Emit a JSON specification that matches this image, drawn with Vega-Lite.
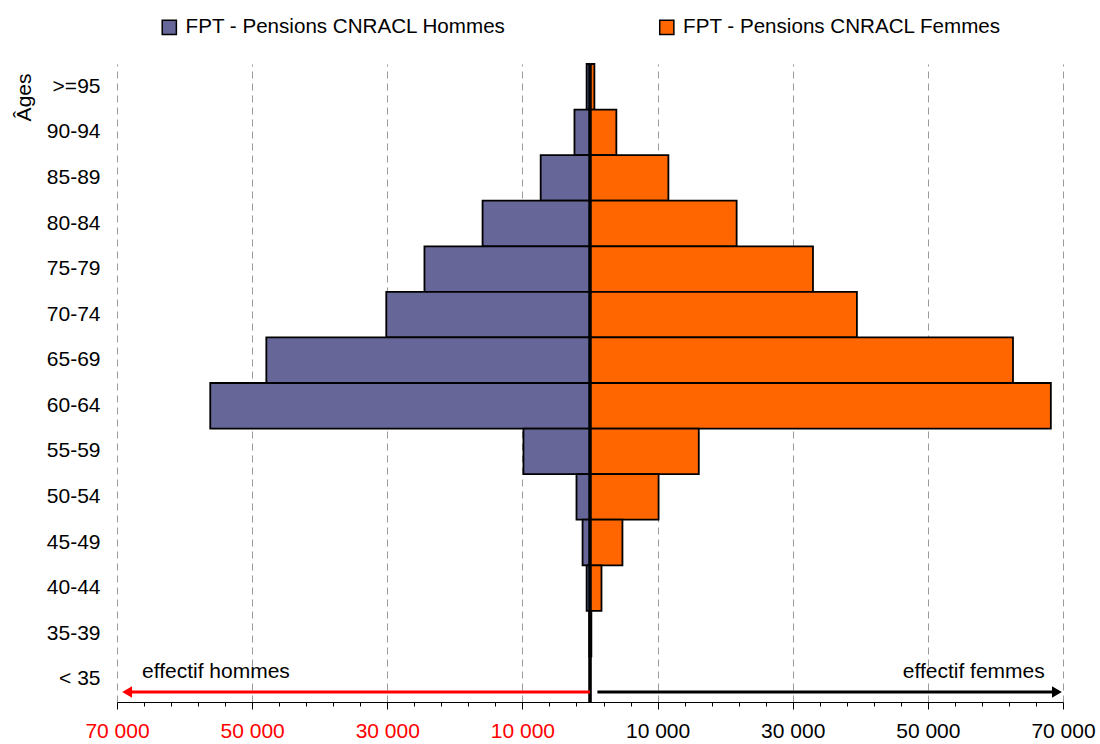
{
  "$schema": "https://vega.github.io/schema/vega-lite/v6.json",
  "width": 946,
  "height": 638,
  "autosize": "none",
  "padding": {"left": 117, "top": 64, "right": 37, "bottom": 42},
  "background": "#ffffff",
  "config": {
    "font": "Liberation Sans",
    "view": {"stroke": null},
    "text": {"font": "Liberation Sans"}
  },
  "datasets": {
    "pyramide": [
      {"age": ">=95", "serie": "FPT - Pensions CNRACL Hommes", "effectif": -500},
      {"age": "90-94", "serie": "FPT - Pensions CNRACL Hommes", "effectif": -2300},
      {"age": "85-89", "serie": "FPT - Pensions CNRACL Hommes", "effectif": -7300},
      {"age": "80-84", "serie": "FPT - Pensions CNRACL Hommes", "effectif": -15900},
      {"age": "75-79", "serie": "FPT - Pensions CNRACL Hommes", "effectif": -24500},
      {"age": "70-74", "serie": "FPT - Pensions CNRACL Hommes", "effectif": -30150},
      {"age": "65-69", "serie": "FPT - Pensions CNRACL Hommes", "effectif": -47900},
      {"age": "60-64", "serie": "FPT - Pensions CNRACL Hommes", "effectif": -56200},
      {"age": "55-59", "serie": "FPT - Pensions CNRACL Hommes", "effectif": -9850},
      {"age": "50-54", "serie": "FPT - Pensions CNRACL Hommes", "effectif": -2000},
      {"age": "45-49", "serie": "FPT - Pensions CNRACL Hommes", "effectif": -1100},
      {"age": "40-44", "serie": "FPT - Pensions CNRACL Hommes", "effectif": -500},
      {"age": "35-39", "serie": "FPT - Pensions CNRACL Hommes", "effectif": -100},
      {"age": "< 35", "serie": "FPT - Pensions CNRACL Hommes", "effectif": -30},
      {"age": ">=95", "serie": "FPT - Pensions CNRACL Femmes", "effectif": 650},
      {"age": "90-94", "serie": "FPT - Pensions CNRACL Femmes", "effectif": 3900},
      {"age": "85-89", "serie": "FPT - Pensions CNRACL Femmes", "effectif": 11600},
      {"age": "80-84", "serie": "FPT - Pensions CNRACL Femmes", "effectif": 21700},
      {"age": "75-79", "serie": "FPT - Pensions CNRACL Femmes", "effectif": 33000},
      {"age": "70-74", "serie": "FPT - Pensions CNRACL Femmes", "effectif": 39500},
      {"age": "65-69", "serie": "FPT - Pensions CNRACL Femmes", "effectif": 62600},
      {"age": "60-64", "serie": "FPT - Pensions CNRACL Femmes", "effectif": 68200},
      {"age": "55-59", "serie": "FPT - Pensions CNRACL Femmes", "effectif": 16100},
      {"age": "50-54", "serie": "FPT - Pensions CNRACL Femmes", "effectif": 10150},
      {"age": "45-49", "serie": "FPT - Pensions CNRACL Femmes", "effectif": 4800},
      {"age": "40-44", "serie": "FPT - Pensions CNRACL Femmes", "effectif": 1700},
      {"age": "35-39", "serie": "FPT - Pensions CNRACL Femmes", "effectif": 200},
      {"age": "< 35", "serie": "FPT - Pensions CNRACL Femmes", "effectif": 50}
    ],
    "fleches": [
      {"cote": "hommes", "debut": 0, "fin": -68500, "texte": "effectif hommes", "xtexte": -66300},
      {"cote": "femmes", "debut": 1100, "fin": 69100, "texte": "effectif femmes", "xtexte": 67300}
    ],
    "axe": [{"zero": 0}]
  },
  "layer": [
    {
      "data": {"name": "pyramide"},
      "mark": {"type": "bar", "stroke": "#000000", "strokeWidth": 1.8},
      "encoding": {
        "y": {
          "field": "age",
          "type": "nominal",
          "scale": {
            "domain": [">=95", "90-94", "85-89", "80-84", "75-79", "70-74", "65-69", "60-64", "55-59", "50-54", "45-49", "40-44", "35-39", "< 35"],
            "paddingInner": 0,
            "paddingOuter": 0
          },
          "axis": {
            "title": "Âges",
            "titleFontSize": 21,
            "titleFontWeight": "normal",
            "titleColor": "#000000",
            "titleAngle": -90,
            "titleAlign": "right",
            "titleBaseline": "alphabetic",
            "titleX": -87,
            "titleY": 9,
            "labelFontSize": 21,
            "labelColor": "#000000",
            "labelPadding": 17,
            "ticks": false,
            "tickSize": 0,
            "domain": false,
            "grid": false
          }
        },
        "x": {
          "field": "effectif",
          "type": "quantitative",
          "stack": null,
          "scale": {"domain": [-70000, 70000], "nice": false},
          "axis": {
            "title": null,
            "tickCount": 60,
            "values": [-70000, -66000, -62000, -58000, -54000, -50000, -46000, -42000, -38000, -34000, -30000, -26000, -22000, -18000, -14000, -10000, -6000, -2000, 2000, 6000, 10000, 14000, 18000, 22000, 26000, 30000, 34000, 38000, 42000, 46000, 50000, 54000, 58000, 62000, 66000, 70000],
            "labelExpr": "(datum.value + 70000) % 20000 == 0 ? replace(format(abs(datum.value), ',d'), ',', ' ') : ''",
            "labelColor": {"condition": {"test": "datum.value < 0", "value": "#FF0000"}, "value": "#000000"},
            "labelFontSize": 21,
            "labelFlush": false,
            "labelOverlap": false,
            "labelPadding": 11,
            "grid": true,
            "gridDash": [7, 5],
            "gridColor": "#9a9a9a",
            "gridWidth": 1,
            "gridOpacity": {"condition": {"test": "(datum.value + 70000) % 20000 == 0", "value": 1}, "value": 0},
            "domainColor": "#000000",
            "domainWidth": 1,
            "tickColor": "#000000",
            "tickWidth": 1,
            "tickSize": {"condition": {"test": "(datum.value + 70000) % 20000 == 0", "value": 7}, "value": 4}
          }
        },
        "color": {
          "field": "serie",
          "type": "nominal",
          "scale": {
            "domain": ["FPT - Pensions CNRACL Hommes", "FPT - Pensions CNRACL Femmes"],
            "range": ["#666699", "#FF6600"]
          },
          "legend": {
            "orient": "none",
            "legendX": 42,
            "legendY": -47,
            "direction": "horizontal",
            "title": null,
            "padding": 0,
            "symbolType": "square",
            "symbolSize": 200,
            "symbolStrokeColor": "#000000",
            "symbolStrokeWidth": 1.5,
            "labelFontSize": 20.6,
            "labelColor": "#000000",
            "labelOffset": 6,
            "labelLimit": 500,
            "columnPadding": 149.5
          }
        }
      }
    },
    {
      "data": {"name": "axe"},
      "mark": {"type": "rule", "strokeWidth": 3.5, "color": "#000000"},
      "encoding": {"x": {"field": "zero", "type": "quantitative"}}
    },
    {
      "data": {"name": "fleches"},
      "mark": {"type": "rule", "strokeWidth": 3},
      "encoding": {
        "x": {"field": "debut", "type": "quantitative"},
        "x2": {"field": "fin"},
        "y": {"datum": "< 35", "type": "nominal", "bandPosition": 0.78},
        "stroke": {
          "field": "cote",
          "type": "nominal",
          "scale": {"domain": ["hommes", "femmes"], "range": ["#FF0000", "#000000"]},
          "legend": null
        }
      }
    },
    {
      "data": {"name": "fleches"},
      "mark": {"type": "point", "filled": true, "size": 130, "opacity": 1},
      "encoding": {
        "x": {"field": "fin", "type": "quantitative"},
        "y": {"datum": "< 35", "type": "nominal", "bandPosition": 0.78},
        "shape": {
          "field": "cote",
          "type": "nominal",
          "scale": {"domain": ["hommes", "femmes"], "range": ["triangle-left", "triangle-right"]},
          "legend": null
        },
        "fill": {
          "field": "cote",
          "type": "nominal",
          "scale": {"domain": ["hommes", "femmes"], "range": ["#FF0000", "#000000"]},
          "legend": null
        }
      }
    },
    {
      "data": {"name": "fleches"},
      "transform": [{"filter": "datum.cote == 'hommes'"}],
      "mark": {"type": "text", "align": "left", "baseline": "alphabetic", "fontSize": 21, "color": "#000000"},
      "encoding": {
        "x": {"field": "xtexte", "type": "quantitative"},
        "y": {"datum": "< 35", "type": "nominal", "bandPosition": 0.47},
        "text": {"field": "texte"}
      }
    },
    {
      "data": {"name": "fleches"},
      "transform": [{"filter": "datum.cote == 'femmes'"}],
      "mark": {"type": "text", "align": "right", "baseline": "alphabetic", "fontSize": 21, "color": "#000000"},
      "encoding": {
        "x": {"field": "xtexte", "type": "quantitative"},
        "y": {"datum": "< 35", "type": "nominal", "bandPosition": 0.47},
        "text": {"field": "texte"}
      }
    }
  ]
}
